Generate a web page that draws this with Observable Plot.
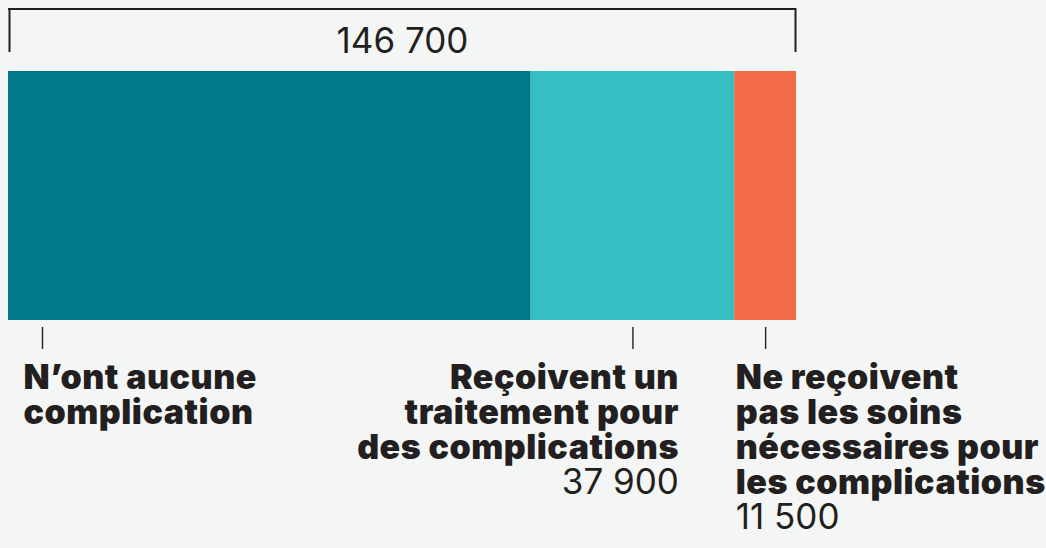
<!DOCTYPE html>
<html>
<head>
<meta charset="utf-8">
<script src="https://cdn.jsdelivr.net/npm/d3@7"></script>
<script src="https://cdn.jsdelivr.net/npm/@observablehq/plot@0.6"></script>
<style>
  html, body { margin: 0; padding: 0; background: #f4f6f5; }
  #chart svg { display: block; }
  .lbl text { letter-spacing: 0.5px; }
</style>
</head>
<body>
<div id="chart"></div>
<script>
// ---- data ----
const categories = [
  "N’ont aucune complication",
  "Reçoivent un traitement pour des complications",
  "Ne reçoivent pas les soins nécessaires pour les complications"
];
const labelLines = [
  ["N’ont aucune", "complication"],
  ["Reçoivent un", "traitement pour", "des complications"],
  ["Ne reçoivent", "pas les soins", "nécessaires pour", "les complications"]
];
const values = [97300, 37900, 11500];
const total = 146700;
const showValue = [false, true, true];
const colors = ["#00798a", "#36bfc2", "#f26b47"];

// ---- layout / style (not data) ----
const ink = "#231f20";
const boldFont = "Inter, 'Liberation Sans', sans-serif";
const regFont = "Inter, 'Liberation Sans', sans-serif";
const labelSize = 34;
const numSize = 35;
const lineStep = 35;          // px between baselines
const firstBaseline = 68;     // px below bar bottom
const layout = [
  {tickAt: "start", tickDx: 34, labelAt: "start", labelDx: 15, anchor: "start"},
  {tickAt: "mid",   tickDx: 0,  labelAt: "mid",   labelDx: 46, anchor: "end"},
  {tickAt: "mid",   tickDx: 0,  labelAt: "start", labelDx: 1,  anchor: "start"}
];

const fr = d3.formatLocale({decimal: ",", thousands: " ", grouping: [3], currency: ["", " €"]});
const fmt = fr.format(",d");

let acc = 0;
const data = categories.map((c, i) => {
  const start = acc; acc += values[i];
  return {category: c, value: values[i], start, end: acc, mid: (start + acc) / 2, i};
});

const marks = [
  Plot.barX(data, Plot.stackX({x: "value", fill: "category"})),
  // bracket
  Plot.rect([total], {x1: 0, x2: d => d, insetTop: -63, insetBottom: 310, fill: ink}),
  Plot.ruleX([0], {x: d => d, dx: 1, insetTop: -63, insetBottom: 268, stroke: ink, strokeWidth: 2}),
  Plot.ruleX([total], {x: d => d, dx: -1, insetTop: -63, insetBottom: 268, stroke: ink, strokeWidth: 2}),
  Plot.text([total], {x: d => d / 2, text: d => fmt(d), frameAnchor: "top", lineAnchor: "bottom", dy: -19,
    fontSize: numSize, fontFamily: regFont, fontWeight: 400, fill: ink})
];

data.forEach((d, i) => {
  const L = layout[i];
  const n = labelLines[i].length;
  marks.push(
    Plot.ruleX([d], {x: L.tickAt === "start" ? "start" : "mid", dx: L.tickDx,
      insetTop: 256, insetBottom: -29, stroke: ink, strokeWidth: 1.4}),
    Plot.text([d], {x: L.labelAt === "start" ? "start" : "mid", dx: L.labelDx,
      text: () => labelLines[i].join("\n"), frameAnchor: "bottom", lineAnchor: "bottom",
      dy: firstBaseline + (n - 1) * lineStep, lineHeight: lineStep / labelSize,
      textAnchor: L.anchor, fontSize: labelSize, fontFamily: boldFont, fontWeight: 900, fill: ink,
      className: "lbl"})
  );
  if (showValue[i]) {
    marks.push(Plot.text([d], {x: L.labelAt === "start" ? "start" : "mid", dx: L.labelDx,
      text: v => fmt(v.value), frameAnchor: "bottom", lineAnchor: "bottom",
      dy: firstBaseline + n * lineStep, textAnchor: L.anchor,
      fontSize: numSize, fontFamily: regFont, fontWeight: 400, fill: ink}));
  }
});

const chart = Plot.plot({
  width: 1046,
  height: 548,
  marginLeft: 8,
  marginRight: 250,
  marginTop: 71,
  marginBottom: 228,
  style: {background: "#f4f6f5", overflow: "visible"},
  x: {domain: [0, total], axis: null},
  color: {domain: categories, range: colors, legend: false},
  marks
});
document.getElementById("chart").appendChild(chart);
</script>
</body>
</html>
